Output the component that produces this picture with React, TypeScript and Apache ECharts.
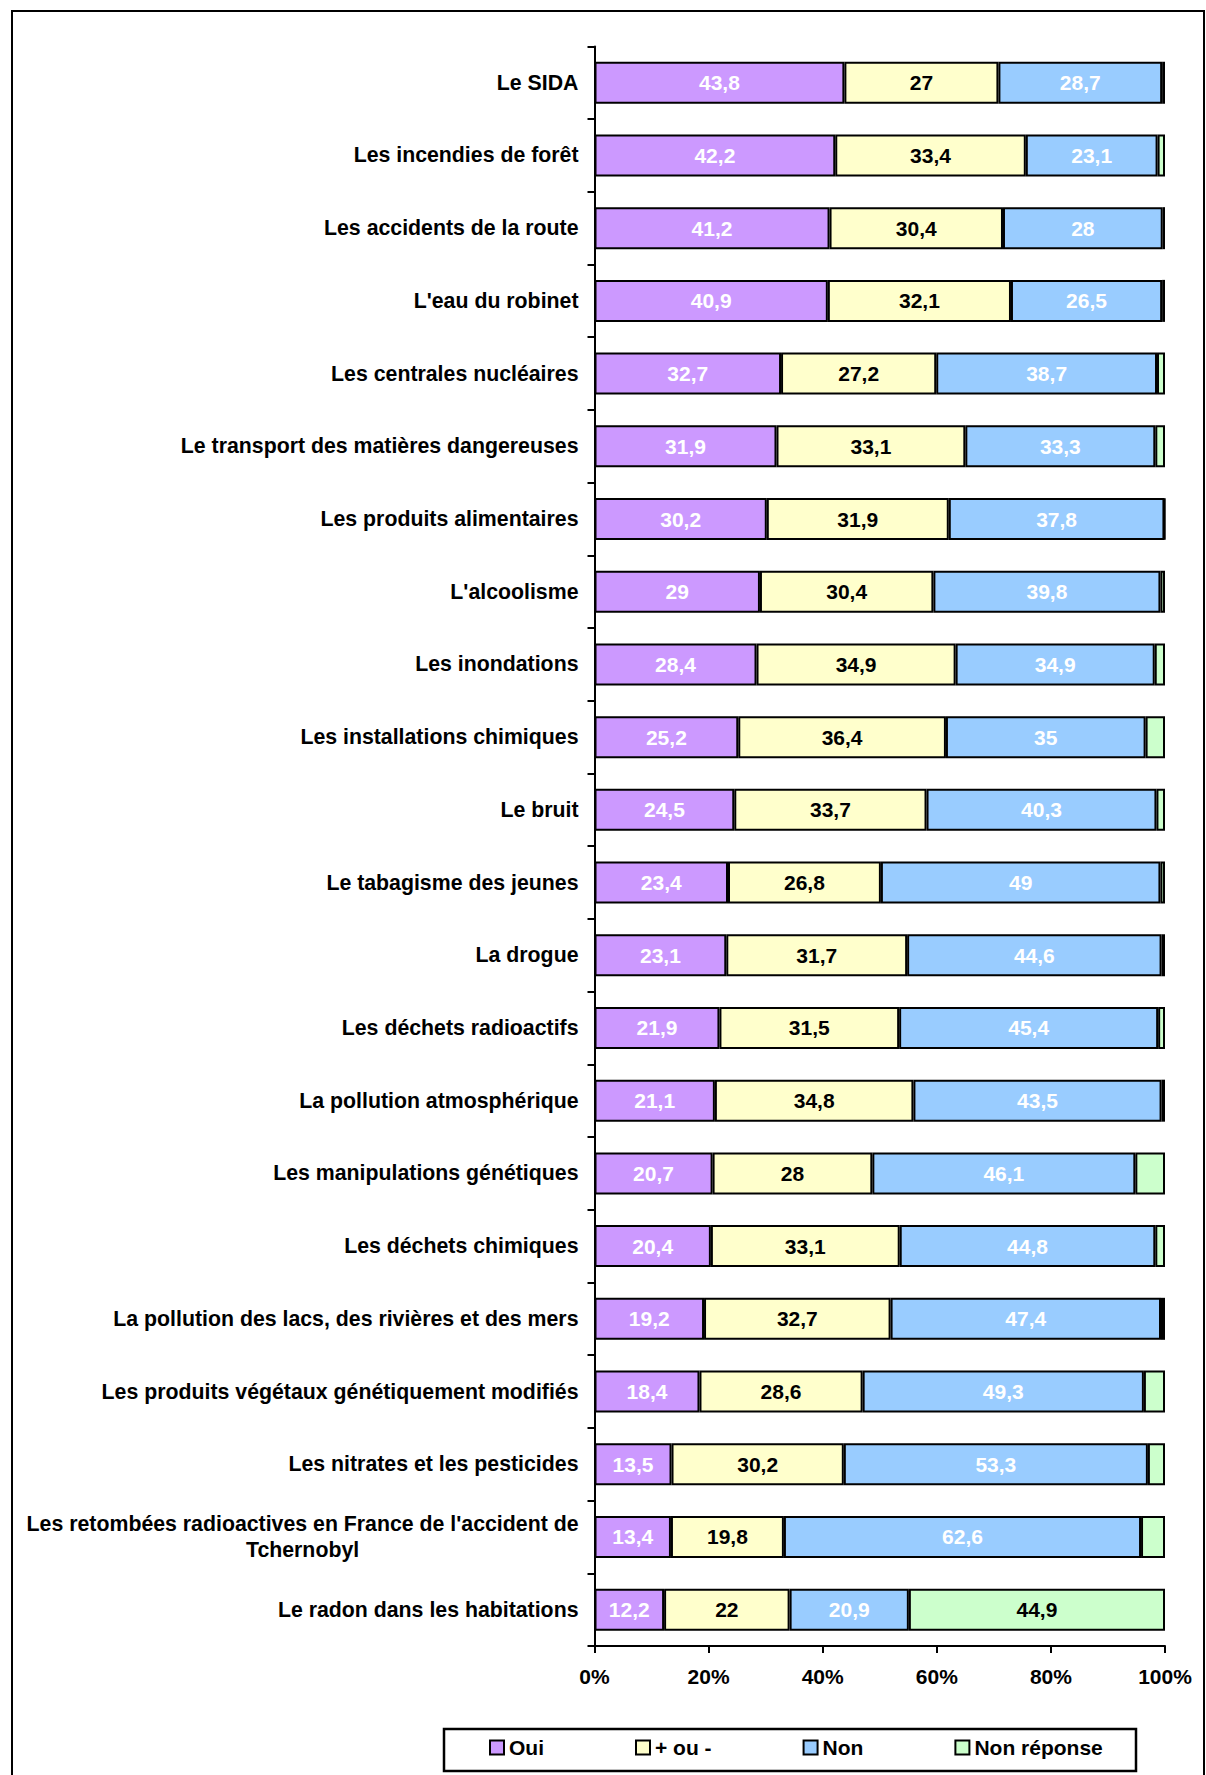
import React, { useEffect, useRef } from "react";
import * as echarts from "echarts";

const categories = [
  "Le SIDA",
  "Les incendies de forêt",
  "Les accidents de la route",
  "L'eau du robinet",
  "Les centrales nucléaires",
  "Le transport des matières dangereuses",
  "Les produits alimentaires",
  "L'alcoolisme",
  "Les inondations",
  "Les installations chimiques",
  "Le bruit",
  "Le tabagisme des jeunes",
  "La drogue",
  "Les déchets radioactifs",
  "La pollution atmosphérique",
  "Les manipulations génétiques",
  "Les déchets chimiques",
  "La pollution des lacs, des rivières et des mers",
  "Les produits végétaux génétiquement modifiés",
  "Les nitrates et les pesticides",
  "Les retombées radioactives en France de l'accident de\nTchernobyl",
  "Le radon dans les habitations",
];

const oui = [43.8, 42.2, 41.2, 40.9, 32.7, 31.9, 30.2, 29, 28.4, 25.2, 24.5, 23.4, 23.1, 21.9, 21.1, 20.7, 20.4, 19.2, 18.4, 13.5, 13.4, 12.2];
const plusOuMoins = [27, 33.4, 30.4, 32.1, 27.2, 33.1, 31.9, 30.4, 34.9, 36.4, 33.7, 26.8, 31.7, 31.5, 34.8, 28, 33.1, 32.7, 28.6, 30.2, 19.8, 22];
const non = [28.7, 23.1, 28, 26.5, 38.7, 33.3, 37.8, 39.8, 34.9, 35, 40.3, 49, 44.6, 45.4, 43.5, 46.1, 44.8, 47.4, 49.3, 53.3, 62.6, 20.9];
const nonReponse = [0.5, 1.3, 0.4, 0.5, 1.4, 1.7, 0.1, 0.8, 1.8, 3.4, 1.5, 0.8, 0.6, 1.2, 0.6, 5.2, 1.7, 0.7, 3.7, 3.0, 4.2, 44.9];

const seriesNames = ["Oui", "+ ou -", "Non", "Non réponse"];
const seriesColors = ["#CC99FF", "#FFFFCC", "#99CCFF", "#CCFFCC"];
const labelColors = ["#ffffff", "#000000", "#ffffff", "#000000"];

const FONT = "'Liberation Sans', Arial, sans-serif";
const fmt = (v: number) => String(v).replace(".", ",");

export default function App() {
  const ref = useRef<HTMLDivElement>(null);
  useEffect(() => {
    if (!ref.current) return;
    const chart = echarts.init(ref.current, null, { renderer: "svg" });
    const allData = [oui, plusOuMoins, non, nonReponse];
    const series = allData.map((d, i) => ({
      name: seriesNames[i],
      type: "bar",
      stack: "total",
      barWidth: 42,
      data: d,
      itemStyle: { color: seriesColors[i], borderColor: "#000", borderWidth: 2 },
      label: {
        show: true,
        position: "inside",
        color: labelColors[i],
        fontFamily: FONT,
        fontWeight: "bold",
        fontSize: 21,
        formatter: (p: any) => (i === 3 && p.value < 10 ? "" : fmt(p.value)),
      },
    }));
    chart.setOption({
      animation: false,
      backgroundColor: "#ffffff",
      textStyle: { fontFamily: FONT },
      grid: { left: 594.5, right: 41, top: 46.4, bottom: 129, containLabel: false },
      xAxis: {
        type: "value",
        min: 0,
        max: 100,
        interval: 20,
        axisLine: { show: true, lineStyle: { color: "#000", width: 2 } },
        axisTick: { show: true, length: 7, lineStyle: { color: "#000", width: 2 } },
        splitLine: { show: false },
        axisLabel: {
          formatter: (v: number) => `${v}%`,
          color: "#000",
          fontFamily: FONT,
          fontWeight: "bold",
          fontSize: 21,
          margin: 20,
        },
      },
      yAxis: {
        type: "category",
        inverse: true,
        data: categories,
        axisLine: { show: true, lineStyle: { color: "#000", width: 2 } },
        axisTick: { show: true, length: 7, lineStyle: { color: "#000", width: 2 } },
        axisLabel: {
          color: "#000",
          fontFamily: FONT,
          fontWeight: "bold",
          fontSize: 21.3,
          margin: 16,
          lineHeight: 26,
          formatter: (v: string) =>
            v.includes("\n") ? v.split("\n").map((l) => `{c|${l}}`).join("\n") : v,
          rich: {
            c: {
              align: "center",
              color: "#000",
              fontFamily: FONT,
              fontWeight: "bold",
              fontSize: 21.3,
              lineHeight: 26,
            },
          },
        },
      },
      legend: {
        data: seriesNames,
        left: 489,
        top: 1737,
        padding: 0,
        itemWidth: 14,
        itemHeight: 14,
        itemGap: 91,
        icon: "rect",
        textStyle: { color: "#000", fontFamily: FONT, fontWeight: "bold", fontSize: 21 },
      },
      graphic: [
        {
          type: "rect",
          shape: { x: 12, y: 11, width: 1192, height: 1800 },
          style: { fill: "none", stroke: "#000", lineWidth: 2 },
          silent: true,
        },
        {
          type: "rect",
          shape: { x: 444, y: 1729, width: 692, height: 42 },
          style: { fill: "none", stroke: "#000", lineWidth: 2.5 },
          silent: true,
        },
      ],
      series,
    });
    return () => chart.dispose();
  }, []);
  return (
    <div
      ref={ref}
      style={{ position: "fixed", left: 0, top: 0, width: 1206, height: 1775 }}
    />
  );
}
